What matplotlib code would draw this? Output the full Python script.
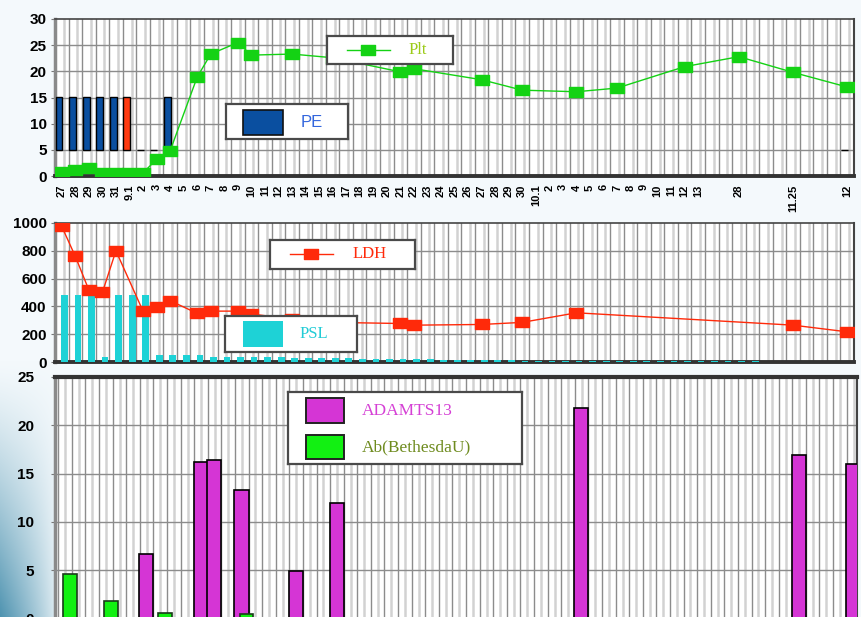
import numpy as np
import matplotlib
matplotlib.use('Agg')
import matplotlib.pyplot as plt
from matplotlib.path import Path
from matplotlib.patches import Rectangle

nan = np.nan

# ---------------- data ----------------
dates = ['27', '28', '29', '30', '31', '9.1', '2', '3', '4', '5',
         '6', '7', '8', '9', '10', '11', '12', '13', '14', '15',
         '16', '17', '18', '19', '20', '21', '22', '23', '24', '25',
         '26', '27', '28', '29', '30', '10.1', '2', '3', '4', '5',
         '6', '7', '8', '9', '10', '11', '12', '13', '', '',
         '28', '', '', '', '11.25', '', '', '', '12']

plt_vals = [0.8, 1.1, 1.5, 0.6, 0.6, 0.6, 0.6, 3.2, 4.8, nan,
            18.9, 23.3, nan, 25.5, 23.1, nan, nan, 23.3, nan, nan,
            22.6, nan, nan, nan, nan, 19.9, 20.5, nan, nan, nan,
            nan, 18.4, nan, nan, 16.4, nan, nan, nan, 16.1, nan,
            nan, 16.8, nan, nan, nan, nan, 20.9, nan, nan, nan,
            22.8, nan, nan, nan, 19.8, nan, nan, nan, 17.0]

pe_height = [10, 10, 10, 10, 10, 10, 0, 0, 10, nan,
             nan, nan, nan, nan, nan, nan, nan, nan, nan, nan,
             nan, nan, nan, nan, nan, nan, nan, nan, nan, nan,
             nan, nan, nan, nan, nan, nan, nan, nan, nan, nan,
             nan, nan, nan, nan, nan, nan, nan, nan, nan, nan,
             nan, nan, nan, nan, nan, nan, nan, nan, 0]
pe_base = 5
pe_kind = ['b', 'b', 'b', 'b', 'b', 'r', 'b', 'b', 'b'] + ['b'] * 50

ldh_vals = [975, 760, 518, 501, 800, nan, 366, 397, 441, nan,
            350, 366, nan, 366, 345, nan, nan, 310, nan, nan,
            285, nan, nan, nan, nan, 277, 265, nan, nan, nan,
            nan, 270, nan, nan, 285, nan, nan, nan, 354, nan,
            nan, nan, nan, nan, nan, nan, nan, nan, nan, nan,
            nan, nan, nan, nan, 265, nan, nan, nan, 217]

psl_vals = [480, 480, 480, 36, 480, 480, 480, 50, 50, 50,
            50, 37, 37, 37, 37, 37, 37, 30, 30, 30,
            30, 30, 20, 20, 20, 20, 20, 20, 15, 15,
            15, 15, 15, 15, 10, 10, 10, 10, 10, 10,
            10, 10, 10, 10, 10, 10, 10, 10, 10, 10,
            10, 10, nan, nan, nan, nan, nan, nan, nan]

adamts_vals = [nan, nan, nan, nan, nan, nan, 6.7, nan, nan, nan,
               16.2, 16.4, nan, 13.3, nan, nan, nan, 4.9, nan, nan,
               12.0, nan, nan, nan, nan, nan, nan, nan, nan, nan,
               nan, nan, nan, nan, nan, nan, nan, nan, 21.8, nan,
               nan, nan, nan, nan, nan, nan, nan, nan, nan, nan,
               nan, nan, nan, nan, 16.9, nan, nan, nan, 16.0]

ab_vals = [4.6, nan, nan, 1.8, nan, nan, nan, 0.6, nan, nan,
           nan, nan, nan, 0.5, nan, nan, nan, nan, nan, nan,
           nan, nan, nan, nan, nan, nan, nan, nan, nan, nan,
           nan, nan, nan, nan, nan, nan, nan, nan, nan, nan,
           nan, nan, nan, nan, nan, nan, nan, nan, nan, nan,
           nan, nan, nan, nan, nan, nan, nan, nan, nan]

# ---------------- style ----------------
C_PLT = '#14D214'
C_PE = '#0A4FA0'
C_PE_RED = '#FF3A10'
C_LDH = '#FF2A0A'
C_PSL = '#1ED2D6'
C_ADA = '#D535D5'
C_AB = '#12F012'
SANS = ['Liberation Sans', 'DejaVu Sans']
SERIF = ['Liberation Serif', 'DejaVu Serif']

W, H = 862, 617
fig = plt.figure(figsize=(W / 100, H / 100), dpi=100, facecolor='#F4F9FC')


def fpos(l, t, r, b):
    return [l / W, 1 - b / H, (r - l) / W, (b - t) / H]


# background gradient (decorative slide background)
bg = fig.add_axes([0, 0, 1, 1], zorder=-10)
bg.axis('off')
yy, xx = np.mgrid[0:H, 0:W].astype(float)
wgt = np.clip((yy - 360) / 257, 0, 1) ** 1.3 * np.clip(1 - xx / 60, 0, 1) ** 0.8
base = np.array([0xF4, 0xF9, 0xFC]) / 255
tgt = np.array([0x4E, 0x93, 0xB0]) / 255
img = base[None, None, :] * (1 - wgt[..., None]) + tgt[None, None, :] * wgt[..., None]
bg.imshow(img, extent=[0, 1, 0, 1], aspect='auto', origin='upper')

n = len(dates)
x = np.arange(n)
rect_marker = Path([(-1.35, -1), (1.35, -1), (1.35, 1), (-1.35, 1), (-1.35, -1)],
                   [Path.MOVETO, Path.LINETO, Path.LINETO, Path.LINETO, Path.CLOSEPOLY])


def style_axes(ax, ymax, ystep, dark_off, light_off, lpad):
    ax.set_facecolor('white')
    ax.set_xlim(-0.5, n - 0.5)
    ax.set_ylim(0, ymax)
    ax.set_yticks(np.arange(0, ymax + 1, ystep))
    for k in range(-1, n + 1):
        for off, col, lw in ((light_off, '#d2d2d2', 1.8), (dark_off, '#8c8c8c', 1.0)):
            xv = k + off
            if -0.5 < xv < n - 0.5:
                ax.axvline(xv, color=col, lw=lw, zorder=1)
    for yv in np.arange(ystep, ymax, ystep):
        ax.axhline(yv, color='#8c8c8c', lw=1.0, zorder=1)
    ax.spines['left'].set_color('#8a8a8a')
    ax.spines['left'].set_linewidth(2.5)
    ax.spines['bottom'].set_color('#333333')
    ax.spines['bottom'].set_linewidth(2.8)
    ax.spines['top'].set_color('#444444')
    ax.spines['top'].set_linewidth(1.2)
    ax.spines['right'].set_color('#444444')
    ax.spines['right'].set_linewidth(1.5)
    ax.tick_params(axis='y', length=3, color='#777777', pad=lpad)
    for lab in ax.get_yticklabels():
        lab.set_fontfamily(SANS)
        lab.set_fontweight('bold')
        lab.set_fontsize(11)


# ---------------- panel 1: Plt / PE ----------------
ax1 = fig.add_axes(fpos(55, 19, 854, 176))
style_axes(ax1, 30, 5, -0.5, 0.15, 3)
pe_h = np.array(pe_height, dtype=float)
m = ~np.isnan(pe_h)
pe_cols = [C_PE_RED if k == 'r' else C_PE for k in pe_kind]
ax1.bar(x[m] - 0.2, pe_h[m], bottom=pe_base, width=0.5,
        color=[pe_cols[i] for i in x[m]], edgecolor='black', linewidth=1.0, zorder=3)
pv = np.array(plt_vals, dtype=float)
m = ~np.isnan(pv)
ax1.plot(x[m], pv[m], color=C_PLT, lw=1.0, marker=rect_marker, ms=9.5,
         mfc=C_PLT, mec=C_PLT, zorder=5)
ax1.set_xticks(x)
ax1.set_xticklabels(dates, rotation=90, fontsize=8, fontweight='bold', family=SANS)
ax1.tick_params(axis='x', length=0, pad=6)

# ---------------- panel 2: LDH / PSL ----------------
ax2 = fig.add_axes(fpos(55, 223, 854, 362))
style_axes(ax2, 1000, 200, -0.5, 0.15, 3)
ps = np.array(psl_vals, dtype=float)
m = ~np.isnan(ps)
ax2.bar(x[m] + 0.2, ps[m], width=0.5, color=C_PSL, linewidth=0, zorder=3)
lv = np.array(ldh_vals, dtype=float)
m = ~np.isnan(lv)
ax2.plot(x[m], lv[m], color=C_LDH, lw=1.0, marker=rect_marker, ms=9.5,
         mfc=C_LDH, mec=C_LDH, zorder=5)
ax2.set_xticks([])

# ---------------- panel 3: ADAMTS13 / Ab ----------------
ax3 = fig.add_axes(fpos(55, 377, 857, 618.5))
style_axes(ax3, 25, 5, -0.26, 0.25, 12)
ax3.spines['top'].set_linewidth(3)
ax3.spines['top'].set_color('#333333')
av = np.array(adamts_vals, dtype=float)
m = ~np.isnan(av)
ax3.bar(x[m] + 0.22, av[m], width=1.05, color=C_ADA, edgecolor='black', linewidth=1.2, zorder=3)
bv = np.array(ab_vals, dtype=float)
m = ~np.isnan(bv)
ax3.bar(x[m] + 0.6, bv[m], width=1.0, color=C_AB, edgecolor='#1a3a1a', linewidth=1.2, zorder=3)
ax3.set_xticks([])


# ---------------- legends ----------------
def legend_box(l, t, r, b):
    lax = fig.add_axes(fpos(l, t, r, b))
    lax.set_zorder(20)
    lax.set_xlim(l, r)
    lax.set_ylim(b, t)
    lax.set_xticks([])
    lax.set_yticks([])
    lax.set_facecolor('white')
    for s in lax.spines.values():
        s.set_color('#4a4a4a')
        s.set_linewidth(1.6)
    return lax


lg = legend_box(327, 36, 453, 64)
lg.plot([347, 390], [50, 50], color=C_PLT, lw=1.0)
lg.plot([368], [50], marker=rect_marker, ms=10.5, mfc=C_PLT, mec=C_PLT)
lg.text(409, 50, 'Plt', color='#9CCB19', fontsize=12, family=SERIF, va='center', ha='left')

lg = legend_box(226, 104, 348, 139)
lg.add_patch(Rectangle((243, 110), 40, 25, facecolor=C_PE, edgecolor='#111111', lw=1.2))
lg.text(301, 122.5, 'PE', color='#3366DD', fontsize=12, family=SANS, va='center', ha='left')

lg = legend_box(270, 240, 415, 269)
lg.plot([290, 333], [254, 254], color=C_LDH, lw=1.0)
lg.plot([311], [254], marker=rect_marker, ms=10.5, mfc=C_LDH, mec=C_LDH)
lg.text(353, 254.5, 'LDH', color=C_LDH, fontsize=12, family=SERIF, va='center', ha='left')

lg = legend_box(225, 316, 357, 352)
lg.add_patch(Rectangle((243, 321), 40, 26, facecolor=C_PSL, edgecolor='none'))
lg.text(300, 334.5, 'PSL', color='#22CCD6', fontsize=12, family=SERIF, va='center', ha='left')

lg = legend_box(288, 392, 522, 464)
lg.add_patch(Rectangle((306, 398), 38, 25, facecolor=C_ADA, edgecolor='#222222', lw=1.4))
lg.add_patch(Rectangle((306, 435), 38, 24, facecolor=C_AB, edgecolor='#222222', lw=1.4))
lg.text(362, 410.5, 'ADAMTS13', color='#D540D5', fontsize=12.5, family=SERIF, va='center', ha='left')
lg.text(362, 447, 'Ab(BethesdaU)', color='#6E8B1E', fontsize=12.5, family=SERIF, va='center', ha='left')

fig.savefig('out.png', dpi=100, facecolor=fig.get_facecolor())
